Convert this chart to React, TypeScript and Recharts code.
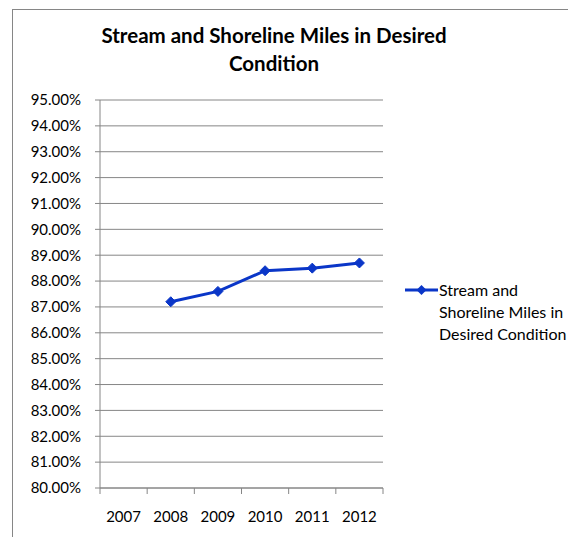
import { LineChart, Line, XAxis, YAxis, CartesianGrid } from "recharts";

const years = ["2007", "2008", "2009", "2010", "2011", "2012"];
const desiredCondition = [null, 0.872, 0.876, 0.884, 0.885, 0.887];
const yTicks = [0.8, 0.81, 0.82, 0.83, 0.84, 0.85, 0.86, 0.87, 0.88, 0.89, 0.9, 0.91, 0.92, 0.93, 0.94, 0.95];
const seriesName = "Stream and Shoreline Miles in Desired Condition";

const data = years.map((year, i) => ({ year, value: desiredCondition[i] }));

const FONT = "Lato, 'Open Sans', sans-serif";
const GRAY = "#868686";
const BLUE = "#0a36c8";

function Diamond(props: any) {
  const { cx, cy, index } = props;
  if (cx == null || cy == null) return <g key={index} />;
  const r = 5;
  return (
    <polygon
      key={index}
      points={`${cx},${cy - r} ${cx + r},${cy} ${cx},${cy + r} ${cx - r},${cy}`}
      fill={BLUE}
      stroke={BLUE}
      strokeWidth={1}
    />
  );
}

function YearTick(props: any) {
  const { x, y, payload, index, visibleTicksCount } = props;
  const half = payload.offset || 0;
  return (
    <g>
      <line x1={x - half} x2={x - half} y1={y} y2={y + 6} stroke={GRAY} />
      {index === visibleTicksCount - 1 && (
        <line x1={x + half} x2={x + half} y1={y} y2={y + 6} stroke={GRAY} />
      )}
      <text x={x} y={y + 23} dy="0.71em" textAnchor="middle" fontSize={15} fill="#000" fontFamily={FONT}>
        {payload.value}
      </text>
    </g>
  );
}

export default function App() {
  return (
    <div style={{ position: "absolute", left: 0, top: 0, width: 568, height: 537, overflow: "hidden", background: "#fff" }}>
      <div style={{ position: "absolute", left: 12, top: 9, width: 700, height: 700, border: `1px solid ${GRAY}` }} />
      <div
        style={{
          position: "absolute",
          left: 0,
          top: 21,
          width: 548,
          textAlign: "center",
          fontFamily: FONT,
          fontWeight: 700,
          fontSize: 20.5,
          lineHeight: "28px",
        }}
      >
        Stream and Shoreline Miles in Desired
        <br />
        Condition
      </div>
      <LineChart
        width={568}
        height={537}
        data={data}
        margin={{ top: 100, right: 185, bottom: 9, left: 12 }}
        style={{ position: "absolute", left: 0, top: 0 }}
      >
        <CartesianGrid vertical={false} stroke={GRAY} />
        <XAxis
          dataKey="year"
          scale="band"
          stroke={GRAY}
          tickLine={false}
          tickSize={0}
          tickMargin={0}
          height={40}
          interval={0}
          tick={<YearTick />}
        />
        <YAxis
          type="number"
          domain={[0.8, 0.95]}
          ticks={yTicks}
          interval={0}
          width={88}
          stroke={GRAY}
          tickSize={5}
          tickMargin={14}
          tick={{ fill: "#000", fontSize: 15, fontFamily: FONT }}
          tickFormatter={(v: number) => (v * 100).toFixed(2) + "%"}
        />
        <Line
          dataKey="value"
          name={seriesName}
          stroke={BLUE}
          strokeWidth={3}
          dot={<Diamond />}
          activeDot={false}
          isAnimationActive={false}
        />
      </LineChart>
      <div style={{ position: "absolute", left: 405, top: 279, fontFamily: FONT, fontSize: 16, lineHeight: "22px", color: "#000" }}>
        <svg width={34} height={22} style={{ position: "absolute", left: 0, top: 0 }}>
          <line x1={0} x2={33} y1={11} y2={11} stroke={BLUE} strokeWidth={3} />
          <polygon points="16.5,6 21.5,11 16.5,16 11.5,11" fill={BLUE} />
        </svg>
        <div style={{ marginLeft: 34, width: 140 }}>
          Stream and
          <br />
          Shoreline Miles in
          <br />
          Desired Condition
        </div>
      </div>
    </div>
  );
}
